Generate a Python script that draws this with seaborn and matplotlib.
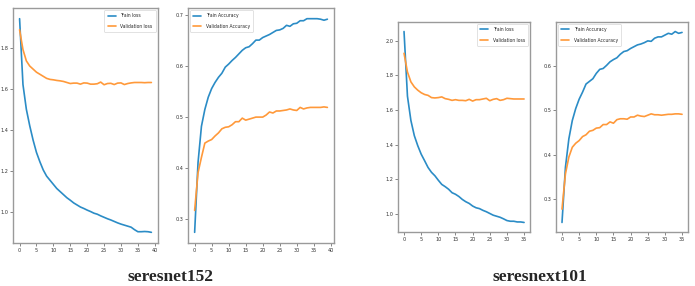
import numpy as np
import pandas as pd
import matplotlib
matplotlib.use("Agg")
import matplotlib.pyplot as plt
from matplotlib.font_manager import FontProperties
import seaborn as sns

sns.set_style("ticks")

# ---- seresnet152 (40 epochs) ----
r152_train_loss = [1.94, 1.62, 1.50, 1.42, 1.35, 1.29, 1.245, 1.205, 1.175, 1.155,
                   1.135, 1.115, 1.10, 1.085, 1.07, 1.058, 1.045, 1.035, 1.025, 1.018,
                   1.01, 1.003, 0.995, 0.99, 0.982, 0.975, 0.968, 0.962, 0.955, 0.948,
                   0.942, 0.937, 0.932, 0.927, 0.915, 0.905, 0.905, 0.906, 0.905, 0.902]
r152_val_loss = [1.886, 1.79, 1.735, 1.71, 1.695, 1.68, 1.67, 1.66, 1.65, 1.645,
                 1.643, 1.64, 1.638, 1.635, 1.63, 1.625, 1.627, 1.627, 1.622, 1.628,
                 1.627, 1.622, 1.622, 1.624, 1.632, 1.619, 1.625, 1.626, 1.62, 1.627,
                 1.628, 1.62, 1.625, 1.628, 1.63, 1.63, 1.63, 1.629, 1.63, 1.63]
r152_train_acc = [0.273, 0.41, 0.481, 0.514, 0.538, 0.555, 0.567, 0.577, 0.585, 0.597,
                  0.603, 0.61, 0.616, 0.623, 0.63, 0.635, 0.637, 0.643, 0.65, 0.65,
                  0.655, 0.658, 0.661, 0.665, 0.669, 0.67, 0.673, 0.679, 0.677, 0.682,
                  0.683, 0.688, 0.688, 0.692, 0.692, 0.692, 0.692, 0.691, 0.689, 0.691]
r152_val_acc = [0.316, 0.39, 0.42, 0.448, 0.452, 0.455, 0.462, 0.468, 0.476, 0.479,
                0.48, 0.484, 0.49, 0.49, 0.497, 0.493, 0.495, 0.497, 0.499, 0.499,
                0.499, 0.503, 0.509, 0.507, 0.511, 0.511, 0.512, 0.513, 0.515, 0.513,
                0.512, 0.518, 0.515, 0.517, 0.518, 0.518, 0.518, 0.518, 0.519, 0.518]

# ---- seresnext101 (36 epochs) ----
x101_train_loss = [2.054, 1.68, 1.54, 1.452, 1.394, 1.345, 1.307, 1.268, 1.24, 1.22,
                   1.194, 1.17, 1.157, 1.142, 1.122, 1.113, 1.10, 1.083, 1.07, 1.06,
                   1.045, 1.035, 1.03, 1.02, 1.012, 1.002, 0.992, 0.986, 0.98, 0.971,
                   0.961, 0.957, 0.957, 0.953, 0.953, 0.95]
x101_val_loss = [1.928, 1.82, 1.763, 1.734, 1.715, 1.70, 1.69, 1.685, 1.672, 1.67,
                 1.672, 1.676, 1.666, 1.662, 1.656, 1.66, 1.656, 1.656, 1.654, 1.662,
                 1.652, 1.66, 1.66, 1.664, 1.668, 1.654, 1.662, 1.666, 1.656, 1.66,
                 1.668, 1.666, 1.664, 1.664, 1.664, 1.664]
x101_train_acc = [0.248, 0.372, 0.436, 0.477, 0.504, 0.525, 0.541, 0.559, 0.565, 0.571,
                  0.583, 0.592, 0.594, 0.601, 0.609, 0.614, 0.618, 0.626, 0.632, 0.634,
                  0.639, 0.643, 0.647, 0.649, 0.652, 0.656, 0.655, 0.662, 0.665, 0.665,
                  0.669, 0.673, 0.671, 0.677, 0.673, 0.675]
x101_val_acc = [0.278, 0.357, 0.395, 0.417, 0.426, 0.432, 0.441, 0.445, 0.453, 0.455,
                0.46, 0.461, 0.468, 0.468, 0.474, 0.471, 0.479, 0.481, 0.481, 0.48,
                0.485, 0.485, 0.489, 0.487, 0.486, 0.489, 0.492, 0.49, 0.49, 0.489,
                0.49, 0.491, 0.491, 0.492, 0.492, 0.491]

model_names = ["seresnet152", "seresnext101"]
loss_labels = ["Train loss", "Validation loss"]
acc_labels = ["Train Accuracy", "Validation Accuracy"]

BLUE = "#2b8cc6"
ORANGE = "#ff993a"
SPINE = "#9a9a9a"

small = FontProperties(family="DejaVu Sans", stretch="condensed", size=3.6)
tickfont = FontProperties(family="DejaVu Sans", stretch="condensed", size=4.0)

fig = plt.figure(figsize=(6.95, 2.86), dpi=100)
ax1 = fig.add_axes([0.0187, 0.1503, 0.2086, 0.8217])
ax2 = fig.add_axes([0.2705, 0.1503, 0.2101, 0.8217])
ax3 = fig.add_axes([0.5727, 0.1888, 0.1900, 0.7343])
ax4 = fig.add_axes([0.8000, 0.1888, 0.1900, 0.7343])


def draw(ax, train, val, labels, loc, xticks, yticks):
    ep = np.arange(len(train))
    sns.lineplot(x=ep, y=train, ax=ax, color=BLUE, lw=1.2, label=labels[0])
    sns.lineplot(x=ep, y=val, ax=ax, color=ORANGE, lw=1.2, label=labels[1])
    ax.set_xticks(xticks)
    ax.set_xticklabels([str(t) for t in xticks], fontproperties=tickfont)
    ax.set_yticks(yticks)
    ax.set_yticklabels([f"{t:.1f}" for t in yticks], fontproperties=tickfont)
    ax.tick_params(length=2, width=0.5, color="#555555", pad=1.5,
                   labelcolor="#333333")
    for s in ax.spines.values():
        s.set_color(SPINE)
        s.set_linewidth(1.0)
    leg = ax.legend(loc=loc, prop=small, handlelength=1.6, borderpad=0.7,
                    labelspacing=1.1, handletextpad=0.9, borderaxespad=0.35,
                    frameon=True, fancybox=True)
    leg.get_frame().set_linewidth(0.5)
    leg.get_frame().set_edgecolor("#cccccc")
    ax.set_xlabel("")
    ax.set_ylabel("")


draw(ax1, r152_train_loss, r152_val_loss, loss_labels, "upper right",
     list(range(0, 41, 5)), [1.0, 1.2, 1.4, 1.6, 1.8])
draw(ax2, r152_train_acc, r152_val_acc, acc_labels, "upper left",
     list(range(0, 41, 5)), [0.3, 0.4, 0.5, 0.6, 0.7])
draw(ax3, x101_train_loss, x101_val_loss, loss_labels, "upper right",
     list(range(0, 36, 5)), [1.0, 1.2, 1.4, 1.6, 1.8, 2.0])
draw(ax4, x101_train_acc, x101_val_acc, acc_labels, "upper left",
     list(range(0, 36, 5)), [0.3, 0.4, 0.5, 0.6])

fig.text(170 / 695, 1 - 281 / 286, model_names[0], ha="center", va="baseline",
         fontsize=12.5, fontweight="bold", family=["Liberation Serif", "DejaVu Serif"])
fig.text(540 / 695, 1 - 281 / 286, model_names[1], ha="center", va="baseline",
         fontsize=12.5, fontweight="bold", family=["Liberation Serif", "DejaVu Serif"])

fig.savefig("out.png", dpi=100)
